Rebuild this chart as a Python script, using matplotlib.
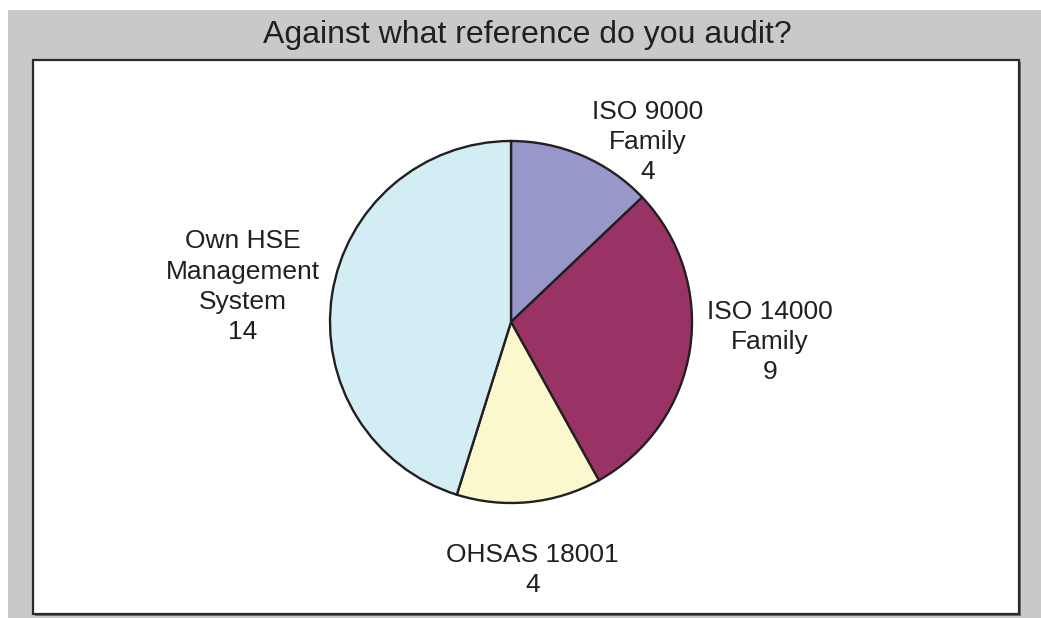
import matplotlib.pyplot as plt
from matplotlib.patches import Rectangle

plt.rcParams['font.family'] = ['Liberation Sans', 'DejaVu Sans']

# audit reference counts
labels = ['ISO 9000\nFamily', 'ISO 14000\nFamily', 'OHSAS 18001', 'Own HSE\nManagement\nSystem']
counts = [4, 9, 4, 14]
colors = ['#9797C9', '#9A3365', '#FBF8CD', '#D3EDF4']

# label anchor points in pie units (radius = 1)
label_pos = [(0.757, 0.994), (1.43, -0.11), (0.12, -1.37), (-1.48, 0.195)]

W, H = 1041, 618
fig = plt.figure(figsize=(W / 100, H / 100), dpi=100)
fig.patch.set_facecolor('white')

# grey chart area, frame shadow and white plot frame
fig.add_artist(Rectangle((8 / W, 0), 1 - 8 / W, (H - 10) / H, transform=fig.transFigure,
                         facecolor='#C8C9CA', edgecolor='none', zorder=-3))
fig.add_artist(Rectangle((35 / W, (H - 616) / H), (1019 - 33) / W, (614 - 60) / H,
                         transform=fig.transFigure, facecolor='#6E6E70',
                         edgecolor='none', zorder=-2))
fig.add_artist(Rectangle((33 / W, (H - 614) / H), (1019 - 33) / W, (614 - 60) / H,
                         transform=fig.transFigure, facecolor='white',
                         edgecolor='#2B2B2B', linewidth=1.6, zorder=-1))

fig.text(527 / W, 1 - 35 / H, 'Against what reference do you audit?',
         ha='center', va='center', fontsize=23, color='#231F20')

cx, cy, r = 511, 322, 181
ax = fig.add_axes([(cx - r) / W, (H - cy - r) / H, 2 * r / W, 2 * r / H])
ax.set_zorder(2)
ax.pie(counts, colors=colors, startangle=90, counterclock=False,
       wedgeprops=dict(edgecolor='#231F20', linewidth=1.7))
ax.set_xlim(-1, 1)
ax.set_ylim(-1, 1)
ax.set_aspect('equal')
ax.axis('off')
for w in ax.patches:
    w.set_clip_on(False)

for lab, n, (x, y) in zip(labels, counts, label_pos):
    ax.text(x, y, f'{lab}\n{n}', ha='center', va='center', fontsize=19,
            color='#231F20', linespacing=1.33, clip_on=False)

fig.savefig('out.png', dpi=100)
